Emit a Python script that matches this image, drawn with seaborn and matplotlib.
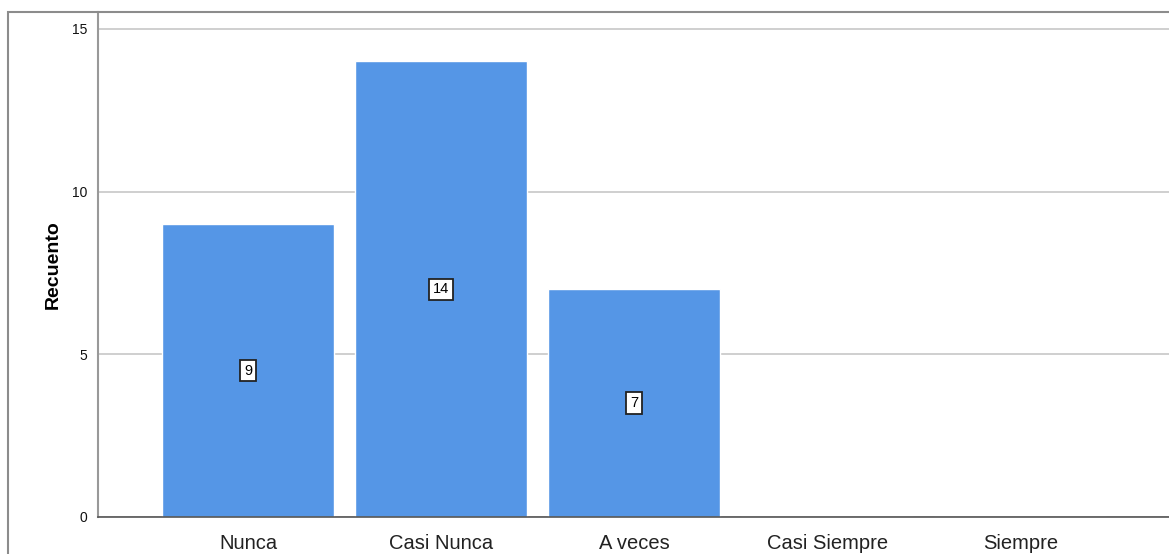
import matplotlib
matplotlib.use("Agg")
import matplotlib.pyplot as plt
import seaborn as sns
import pandas as pd
from matplotlib.patches import Rectangle

categorias = ["Nunca", "Casi Nunca", "A veces", "Casi Siempre", "Siempre"]
recuento = [9, 14, 7, 0, 0]
ticks_y = [0, 5, 10, 15]

sns.set_style("white")
plt.rcParams['font.family'] = ['Liberation Sans', 'DejaVu Sans']

df = pd.DataFrame({"categoria": categorias, "recuento": recuento})

fig = plt.figure(figsize=(11.69, 5.54), dpi=100)
ax = fig.add_axes([98 / 1169, 37 / 554, 1 - 98 / 1169, 505 / 554])

# marco exterior
fig.patches.append(Rectangle((8 / 1169, -0.1), 1.2, (554 - 12) / 554 + 0.1,
                             transform=fig.transFigure, fill=False,
                             edgecolor='#8c8c8c', linewidth=1.5, zorder=0))

ax.grid(axis='y', color='#cccccc', linewidth=1.3, zorder=0)
ax.set_axisbelow(True)
sns.barplot(data=df, x="categoria", y="recuento", color='#5596e6',
            saturation=1, width=0.89, ax=ax, zorder=2)

for i, v in enumerate(recuento):
    if v > 0:
        ax.text(i, v / 2, str(v), ha='center', va='center', fontsize=10.5,
                color='black', zorder=3,
                bbox=dict(boxstyle='square,pad=0.25', facecolor='white',
                          edgecolor='#222222', linewidth=1.3))

ax.set_ylim(0, 15.52)
ax.set_xlim(-0.777, 4.77)
ax.set_yticks(ticks_y)
ax.tick_params(axis='y', length=0, labelsize=10, pad=8, labelcolor='#111111')
ax.tick_params(axis='x', length=0, labelsize=14.5, pad=12, labelcolor='#222222')
ax.set_xlabel("")
ax.set_ylabel("Recuento", fontsize=14, fontweight='bold', labelpad=7, color='black')

for s in ['top', 'right']:
    ax.spines[s].set_visible(False)
ax.spines['left'].set_color('#999999')
ax.spines['left'].set_linewidth(1.5)
ax.spines['bottom'].set_color('#555555')
ax.spines['bottom'].set_linewidth(1.2)

fig.savefig("out.png", dpi=100)
